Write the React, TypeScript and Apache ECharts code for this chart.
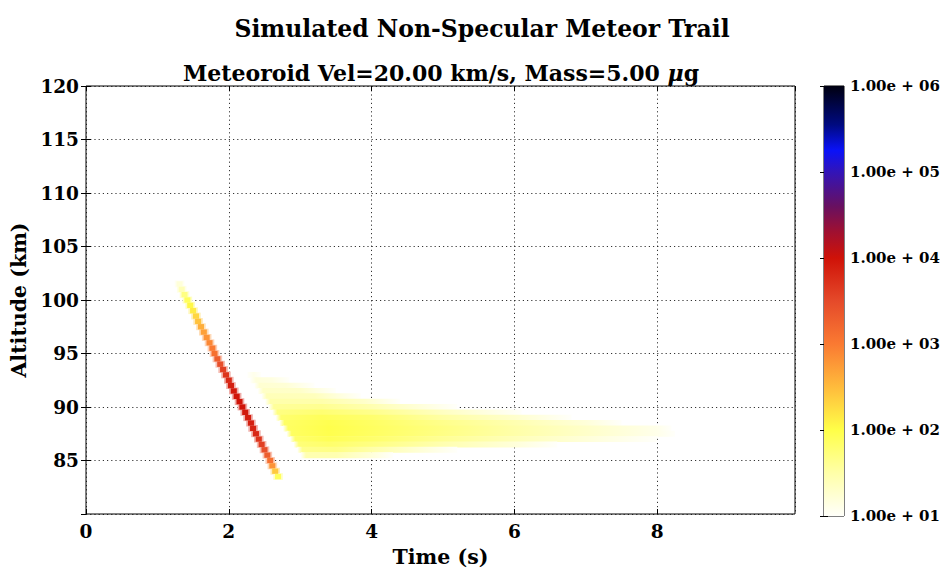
import React, { useEffect, useRef } from "react";
import * as echarts from "echarts";

// ---------- data ----------
const xTicks = [0, 2, 4, 6, 8];
const yTicks = [85, 90, 95, 100, 105, 110, 115, 120];
const cbarTicks = [1e1, 1e2, 1e3, 1e4, 1e5, 1e6];

// colormap: log10(value) -> colour
const cmapVals = [1.0, 1.5, 2.0, 2.5, 3.0, 3.5, 4.0, 4.3, 4.6, 5.0, 5.25, 5.55, 6.0];
const cmapColors = ["#fffffa", "#ffffa8", "#ffff48", "#ffbb3c", "#fa7a32", "#e54a2a", "#cf1208", "#a01030", "#681060", "#3214b8", "#0a12f8", "#000a80", "#000010"];

// head echo (log10 intensity)
const headAlt = [101.5, 101.0, 100.5, 100.0, 99.5, 99.0, 98.5, 98.0, 97.5, 97.0, 96.5, 96.0, 95.5, 95.0, 94.5, 94.0, 93.5, 93.0, 92.5, 92.0, 91.5, 91.0, 90.5, 90.0, 89.5, 89.0, 88.5, 88.0, 87.5, 87.0, 86.5, 86.0, 85.5, 85.0, 84.5, 84.0, 83.5];
const headTime = [1.31, 1.34, 1.38, 1.42, 1.46, 1.50, 1.54, 1.57, 1.61, 1.65, 1.69, 1.73, 1.77, 1.80, 1.84, 1.88, 1.92, 1.96, 2.00, 2.03, 2.07, 2.11, 2.15, 2.19, 2.23, 2.27, 2.31, 2.34, 2.38, 2.42, 2.46, 2.50, 2.54, 2.58, 2.61, 2.65, 2.69];
const headLog = [1.2, 1.4, 1.7, 1.9, 2.05, 2.15, 2.3, 2.45, 2.6, 2.7, 2.8, 2.9, 3.0, 3.1, 3.3, 3.45, 3.6, 3.7, 3.8, 3.88, 3.93, 3.97, 3.98, 3.98, 3.95, 3.92, 3.88, 3.84, 3.8, 3.7, 3.6, 3.45, 3.3, 3.1, 2.8, 2.4, 1.9];

// diffuse trail: per altitude row, knot times and log10 intensities
const trailAlt = [93.0, 92.5, 92.0, 91.5, 91.0, 90.5, 90.0, 89.5, 89.0, 88.5, 88.0, 87.5, 87.0, 86.5, 86.0, 85.5];
const trailTimes = [
  [2.26, 2.35, 2.45],
  [2.30, 2.38, 2.60, 2.85],
  [2.36, 2.43, 2.80, 3.20],
  [2.41, 2.48, 3.00, 3.50],
  [2.46, 2.53, 3.20, 3.85],
  [2.51, 2.58, 3.30, 3.90, 4.40],
  [2.56, 2.63, 3.30, 4.00, 5.20],
  [2.61, 2.68, 3.30, 4.00, 5.00, 6.10],
  [2.66, 2.73, 3.30, 4.00, 5.00, 6.00, 6.80],
  [2.71, 2.78, 3.40, 4.00, 5.00, 6.00, 7.00, 7.50],
  [2.76, 2.83, 3.40, 4.00, 5.00, 6.00, 7.00, 8.00, 8.20],
  [2.81, 2.88, 3.40, 4.00, 5.00, 6.00, 7.00, 8.00, 8.25],
  [2.86, 2.93, 3.40, 4.00, 5.00, 6.00, 7.00, 8.00],
  [2.91, 2.98, 3.40, 4.00, 5.00, 6.00, 6.60],
  [2.96, 3.03, 3.50, 4.00, 4.60, 5.20],
  [3.01, 3.08, 3.50, 4.00, 4.30],
];
const trailLogs = [
  [1.0, 1.1, 1.0],
  [1.0, 1.18, 1.15, 1.0],
  [1.0, 1.25, 1.22, 1.0],
  [1.0, 1.32, 1.3, 1.0],
  [1.0, 1.4, 1.38, 1.0],
  [1.0, 1.48, 1.48, 1.3, 1.0],
  [1.0, 1.58, 1.62, 1.45, 1.0],
  [1.0, 1.7, 1.78, 1.65, 1.35, 1.0],
  [1.0, 1.8, 1.9, 1.8, 1.52, 1.28, 1.0],
  [1.0, 1.85, 1.96, 1.86, 1.65, 1.45, 1.2, 1.0],
  [1.0, 1.87, 1.98, 1.88, 1.7, 1.5, 1.3, 1.1, 1.0],
  [1.0, 1.87, 1.97, 1.87, 1.68, 1.5, 1.3, 1.1, 1.0],
  [1.0, 1.82, 1.92, 1.82, 1.6, 1.4, 1.2, 1.0],
  [1.0, 1.75, 1.82, 1.7, 1.45, 1.2, 1.0],
  [1.0, 1.65, 1.68, 1.5, 1.25, 1.0],
  [1.0, 1.45, 1.45, 1.2, 1.0],
];

// ---------- helpers ----------
function hexToRgb(h: string) {
  const n = parseInt(h.slice(1), 16);
  return [(n >> 16) & 255, (n >> 8) & 255, n & 255];
}
function cmapRgb(v: number): number[] {
  const last = cmapVals.length - 1;
  if (v <= cmapVals[0]) return hexToRgb(cmapColors[0]);
  if (v >= cmapVals[last]) return hexToRgb(cmapColors[last]);
  for (let i = 0; i < last; i++) {
    if (v >= cmapVals[i] && v <= cmapVals[i + 1]) {
      const f = (v - cmapVals[i]) / (cmapVals[i + 1] - cmapVals[i]);
      const a = hexToRgb(cmapColors[i]);
      const b = hexToRgb(cmapColors[i + 1]);
      return a.map((x, k) => Math.round(x + (b[k] - x) * f));
    }
  }
  return hexToRgb(cmapColors[last]);
}
function cmap(v: number): string {
  const c = cmapRgb(v);
  return `rgb(${c[0]},${c[1]},${c[2]})`;
}
function blendWhite(v: number, a: number): string {
  const o = cmapRgb(v).map((x) => Math.round(x + (255 - x) * a));
  return `rgb(${o[0]},${o[1]},${o[2]})`;
}

const FONT = "'DejaVu Serif', serif";

export default function App() {
  const ref = useRef<HTMLDivElement>(null);
  useEffect(() => {
    if (!ref.current) return;
    const chart = echarts.init(ref.current, null, { renderer: "svg" });
    const CELL_W = 0.085;
    const CELL_H = 0.5;

    const headData = headAlt.map((a, i) => [headTime[i], a, headLog[i]]);
    const trailData = trailAlt.map((a, i) => [trailTimes[i][0], a, trailTimes[i][trailTimes[i].length - 1], i]);

    const gridLine = { show: true, lineStyle: { color: "#000", width: 0.8, type: [1.2, 3] as any } };
    const labelStyle = { fontFamily: FONT, fontWeight: "bold" as const, fontSize: 18.5, color: "#000" };

    const option: any = {
      animation: false,
      backgroundColor: "#fff",
      title: {
        text: "Simulated Non-Specular Meteor Trail",
        left: 477,
        top: 12,
        textAlign: "center",
        textStyle: { fontFamily: FONT, fontWeight: "bold", fontSize: 23.5, color: "#000" },
      },
      graphic: [
        {
          type: "text",
          x: 441,
          y: 73,
          style: {
            text: "{a|Meteoroid Vel=20.00 km/s, Mass=5.00 }{b|μ}{a|g}",
            textAlign: "center",
            textVerticalAlign: "middle",
            rich: {
              a: { fontFamily: FONT, fontWeight: "bold", fontSize: 22, fill: "#000" },
              b: { fontFamily: FONT, fontWeight: "bold", fontStyle: "italic", fontSize: 22, fill: "#000" },
            },
          },
        },
      ],
      grid: [
        { left: 86, top: 86, width: 709, height: 430, show: true, borderColor: "#000", borderWidth: 1, backgroundColor: "transparent" },
        { left: 824, top: 86, width: 20, height: 430, show: true, borderColor: "#000", borderWidth: 1, backgroundColor: "transparent" },
      ],
      xAxis: [
        {
          gridIndex: 0,
          type: "value",
          min: 0,
          max: 9.93,
          interval: 2,
          name: "Time (s)",
          nameLocation: "middle",
          nameGap: 32,
          nameTextStyle: { fontFamily: FONT, fontWeight: "bold", fontSize: 20.5, color: "#000" },
          axisLine: { show: false },
          axisTick: { show: true, inside: true, length: 5, lineStyle: { color: "#000" } },
          axisLabel: { ...labelStyle, margin: 8, showMaxLabel: false, formatter: (v: number) => (xTicks.includes(v) ? String(v) : "") },
          splitLine: gridLine,
        },
        {
          gridIndex: 0,
          type: "value",
          position: "top",
          min: 0,
          max: 9.93,
          interval: 2,
          axisLine: { show: false },
          axisTick: { show: true, inside: true, length: 5, lineStyle: { color: "#000" } },
          axisLabel: { show: false },
          splitLine: { show: false },
        },
        { gridIndex: 1, type: "value", min: 0, max: 1, show: false },
      ],
      yAxis: [
        {
          gridIndex: 0,
          type: "value",
          min: 80,
          max: 120,
          interval: 5,
          name: "Altitude (km)",
          nameLocation: "middle",
          nameGap: 54,
          nameTextStyle: { fontFamily: FONT, fontWeight: "bold", fontSize: 20.5, color: "#000" },
          axisLine: { show: false },
          axisTick: { show: true, inside: true, length: 5, lineStyle: { color: "#000" } },
          axisLabel: { ...labelStyle, margin: 7, showMinLabel: false, formatter: (v: number) => (yTicks.includes(v) ? String(v) : "") },
          splitLine: gridLine,
        },
        {
          gridIndex: 0,
          type: "value",
          position: "right",
          min: 80,
          max: 120,
          interval: 5,
          axisLine: { show: false },
          axisTick: { show: true, inside: true, length: 5, lineStyle: { color: "#000" } },
          axisLabel: { show: false },
          splitLine: { show: false },
        },
        {
          gridIndex: 1,
          type: "log",
          logBase: 10,
          min: 10,
          max: 1e6,
          position: "right",
          axisLine: { show: false },
          axisTick: { show: true, inside: true, length: 4, lineStyle: { color: "#000" } },
          axisLabel: {
            fontFamily: FONT,
            fontWeight: "bold",
            fontSize: 15,
            color: "#000",
            margin: 6,
            formatter: (v: number) => {
              const e = Math.round(Math.log10(v));
              return cbarTicks.includes(Math.pow(10, e)) ? `1.00e + ${e < 10 ? "0" + e : e}` : "";
            },
          },
          splitLine: { show: false },
        },
        {
          gridIndex: 1,
          type: "log",
          logBase: 10,
          min: 10,
          max: 1e6,
          position: "left",
          axisLine: { show: false },
          axisTick: { show: true, inside: true, length: 4, lineStyle: { color: "#000" } },
          axisLabel: { show: false },
          splitLine: { show: false },
        },
      ],
      series: [
        {
          type: "custom",
          name: "trail",
          xAxisIndex: 0,
          yAxisIndex: 0,
          z: 1,
          clip: true,
          data: trailData,
          renderItem: (params: any, api: any) => {
            const i = api.value(3);
            const ts = trailTimes[i];
            const vs = trailLogs[i];
            const alt = api.value(1);
            const t0 = ts[0];
            const t1 = ts[ts.length - 1];
            const p0 = api.coord([t0, alt + CELL_H / 2]);
            const p1 = api.coord([t1, alt - CELL_H / 2]);
            return {
              type: "rect",
              shape: { x: p0[0], y: p0[1] - 0.3, width: p1[0] - p0[0], height: p1[1] - p0[1] + 0.6 },
              style: {
                fill: {
                  type: "linear",
                  x: 0,
                  y: 0,
                  x2: 1,
                  y2: 0,
                  colorStops: ts.map((t, k) => ({ offset: (t - t0) / (t1 - t0), color: cmap(vs[k]) })),
                },
              },
            };
          },
        },
        {
          type: "custom",
          name: "head-halo",
          xAxisIndex: 0,
          yAxisIndex: 0,
          z: 2,
          data: headData,
          renderItem: (params: any, api: any) => {
            const c = api.coord([api.value(0), api.value(1)]);
            const s = api.size([CELL_W, CELL_H]);
            const w = s[0] + 3.5;
            const h = s[1] + 1.5;
            return {
              type: "rect",
              shape: { x: c[0] - w / 2, y: c[1] - h / 2, width: w, height: h },
              style: { fill: blendWhite(api.value(2), 0.65) },
            };
          },
        },
        {
          type: "custom",
          name: "head",
          xAxisIndex: 0,
          yAxisIndex: 0,
          z: 3,
          data: headData,
          renderItem: (params: any, api: any) => {
            const c = api.coord([api.value(0), api.value(1)]);
            const s = api.size([CELL_W, CELL_H]);
            return {
              type: "rect",
              shape: { x: c[0] - s[0] / 2, y: c[1] - s[1] / 2, width: s[0], height: s[1] },
              style: { fill: cmap(api.value(2)) },
            };
          },
        },
        {
          type: "custom",
          name: "colorbar",
          xAxisIndex: 2,
          yAxisIndex: 2,
          z: 1,
          data: [[0, 10], [1, 1e6]],
          renderItem: (params: any, api: any) => {
            if (params.dataIndex !== 0) return null;
            const p0 = api.coord([0, 1e6]);
            const p1 = api.coord([1, 10]);
            return {
              type: "rect",
              shape: { x: p0[0], y: p0[1], width: p1[0] - p0[0], height: p1[1] - p0[1] },
              style: {
                fill: {
                  type: "linear",
                  x: 0,
                  y: 0,
                  x2: 0,
                  y2: 1,
                  colorStops: cmapVals.map((v, k) => ({ offset: (6 - v) / 5, color: cmapColors[k] })).reverse(),
                },
              },
            };
          },
        },
      ],
    };
    chart.setOption(option);
    return () => chart.dispose();
  }, []);
  return <div ref={ref} style={{ position: "fixed", left: 0, top: 0, width: 945, height: 572, background: "#fff" }} />;
}
